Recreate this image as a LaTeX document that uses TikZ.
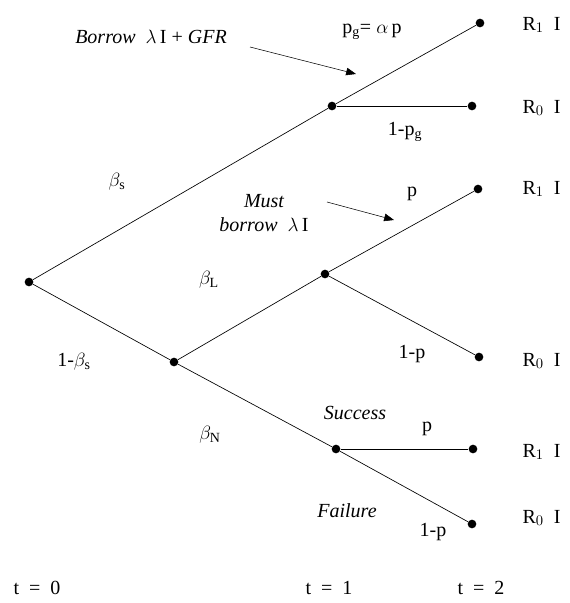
\documentclass[tikz,border=0pt]{standalone}
\usepackage{fontspec}
\setmainfont{Liberation Serif}
\usetikzlibrary{arrows.meta,positioning,calc}

\begin{document}
\begin{tikzpicture}[x=0.75pt, y=-0.75pt, >={Triangle[length=2.6mm,width=2mm]},
  tnode/.style={circle, fill=black, inner sep=0pt, minimum size=6.5pt},
  branch/.style={draw, line width=0.5pt},
  lbl/.style={font=\fontsize{15}{17}\selectfont, inner sep=1pt},
  note/.style={font=\fontsize{15}{18}\selectfont\itshape, inner sep=1pt, align=center}]
\useasboundingbox (0,0) rectangle (569,603);
% nodes of the tree
\node[tnode] (root) at (29,282) {};
\node[tnode] (up) at (332,106) {};
\node[tnode] (upR1) at (480,23) {};
\node[tnode] (upR0) at (472,106) {};
\node[tnode] (low) at (174,362) {};
\node[tnode] (mid) at (325,274) {};
\node[tnode] (midR1) at (478,189) {};
\node[tnode] (midR0) at (479,357) {};
\node[tnode] (bot) at (336,449) {};
\node[tnode] (botR1) at (473,449) {};
\node[tnode] (botR0) at (472,524) {};
% branches
\draw[branch] (root) -- (up) -- (upR1);
\draw[branch] (up) -- (upR0);
\draw[branch] (root) -- (low) -- (mid) -- (midR1);
\draw[branch] (mid) -- (midR0);
\draw[branch] (low) -- (bot) -- (botR0);
\draw[branch] (bot) -- (botR1);
% payoffs
\node[lbl, anchor=west] (pay1) at (521,25) {R$_1$\enspace I};
\node[lbl, anchor=west] (pay2) at (521,108) {R$_0$\enspace I};
\node[lbl, anchor=west] (pay3) at (521,189) {R$_1$\enspace I};
\node[lbl, anchor=west] (pay4) at (521,361) {R$_0$\enspace I};
\node[lbl, anchor=west] (pay5) at (521,452) {R$_1$\enspace I};
\node[lbl, anchor=west] (pay6) at (521,518) {R$_0$\enspace I};
% probabilities
\node[lbl] (pg) at (372,32) {p$_\mathrm{g}$= $\alpha$\,p};
\node[lbl] (qg) at (405,132) {1-p$_\mathrm{g}$};
\node[lbl] (bs) at (117,182) {$\beta_{\mathrm{s}}$};
\node[lbl] (ns) at (74,362) {1-$\beta_{\mathrm{s}}$};
\node[lbl] (bL) at (209,280) {$\beta_{\mathrm{L}}$};
\node[lbl] (bN) at (210,435) {$\beta_{\mathrm{N}}$};
\node[lbl] (pmid) at (412,194) {p};
\node[lbl] (qmid) at (412,354) {1-p};
\node[lbl] (pbot) at (427,429) {p};
\node[lbl] (qbot) at (433,532) {1-p};
% notes and pointers
\node[note] (brw) at (151,37) {Borrow\enspace {\upshape$\lambda$\,I + }GFR};
\node[note] (must) at (264,213) {Must\\borrow\enspace{\upshape$\lambda$\,I}};
\node[note] (succ) at (355,413) {Success};
\node[note] (fail) at (347,511) {Failure};
\coordinate (brwA) at (250,47);
\coordinate (brwB) at (356,74);
\coordinate (mustA) at (327,202);
\coordinate (mustB) at (394,220);
\draw[->] (brwA) -- (brwB);
\draw[->] (mustA) -- (mustB);
% time axis
\node[lbl] (t0) at (37,588) {t\enspace=\enspace0};
\node[lbl] (t1) at (329,588) {t\enspace=\enspace1};
\node[lbl] (t2) at (481,588) {t\enspace=\enspace2};
\end{tikzpicture}
\end{document}
